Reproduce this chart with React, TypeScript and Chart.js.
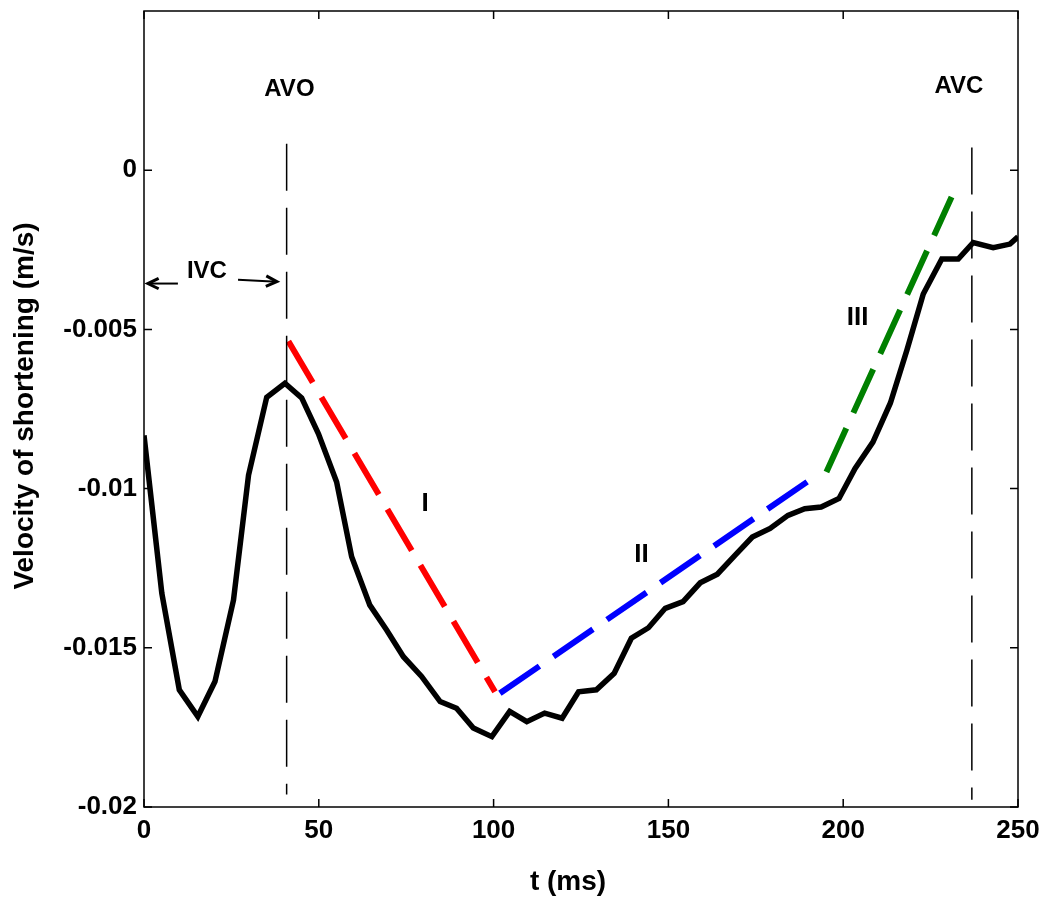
import React, { useEffect, useRef } from "react";
import { Chart, registerables } from "chart.js";

Chart.register(...registerables);

// ---- data ----
const tValues = [0, 5.1, 10.1, 15.4, 20.3, 25.6, 29.9, 35.1, 40.3, 45.1, 49.9, 55.1, 59.4, 64.6, 69.4, 74.2, 79.4, 84.7, 89.4, 94.2, 99.5, 104.6, 109.5, 114.6, 119.6, 124.3, 129.4, 134.5, 139.4, 144.3, 149.1, 154.2, 159.1, 164.0, 169.1, 174.0, 179.1, 184.2, 189.0, 193.7, 198.8, 203.4, 208.5, 213.5, 218.2, 222.9, 228.2, 232.9, 237.2, 242.9, 247.7, 250];
const velocity = [-0.00833, -0.01329, -0.01632, -0.01716, -0.01606, -0.0135, -0.00958, -0.00713, -0.00669, -0.00715, -0.00828, -0.00979, -0.01214, -0.01366, -0.01444, -0.01528, -0.0159, -0.01669, -0.0169, -0.01752, -0.01779, -0.017, -0.01732, -0.01705, -0.01721, -0.01638, -0.01632, -0.0158, -0.0147, -0.01437, -0.01376, -0.01355, -0.01296, -0.01269, -0.01209, -0.01152, -0.01125, -0.01084, -0.01063, -0.01058, -0.01031, -0.00937, -0.00854, -0.00731, -0.00566, -0.00389, -0.00279, -0.00279, -0.00227, -0.00243, -0.00232, -0.00209];

const fitI_t = [41.3, 100.4];
const fitI_v = [-0.00537, -0.01638];
const fitII_t = [101.8, 193.1];
const fitII_v = [-0.01643, -0.00953];
const fitIII_t = [195.2, 231.0];
const fitIII_v = [-0.00948, -0.00084];

const avoT = 40.8;
const avoV = [0.00083, -0.01961];
const avcT = 236.8;
const avcV = [0.00071, -0.01977];

const xTickValues = [0, 50, 100, 150, 200, 250];
const yTickValues = [0, -0.005, -0.01, -0.015, -0.02];

const labelTexts = ["AVO", "AVC", "IVC", "I", "II", "III"];
const labelT = [41.6, 233.1, 18.0, 80.4, 142.3, 204.1];
const labelV = [0.00253, 0.00264, -0.00319, -0.01048, -0.01207, -0.00463];

// arrows: [fromT, fromV, toT, toV]
const ivcArrowLeft = [9.7, -0.00356, 1.1, -0.00356];
const ivcArrowRight = [26.9, -0.00344, 38.0, -0.0035];

const FONT = "'Liberation Sans', Arial, Helvetica, sans-serif";

const pts = (ts: number[], vs: number[]) => ts.map((t, i) => ({ x: t, y: vs[i] }));

const decorPlugin = {
  id: "decor",
  afterDatasetsDraw(chart: any) {
    const { ctx, chartArea, scales } = chart;
    const xs = scales.x;
    const ys = scales.y;
    ctx.save();
    // frame
    ctx.strokeStyle = "#000";
    ctx.lineWidth = 1.5;
    ctx.strokeRect(chartArea.left, chartArea.top, chartArea.right - chartArea.left, chartArea.bottom - chartArea.top);
    // inward ticks
    const tl = 8;
    ctx.beginPath();
    xTickValues.forEach((v) => {
      const px = xs.getPixelForValue(v);
      ctx.moveTo(px, chartArea.bottom);
      ctx.lineTo(px, chartArea.bottom - tl);
      ctx.moveTo(px, chartArea.top);
      ctx.lineTo(px, chartArea.top + tl);
    });
    yTickValues.forEach((v) => {
      const py = ys.getPixelForValue(v);
      ctx.moveTo(chartArea.left, py);
      ctx.lineTo(chartArea.left + tl, py);
      ctx.moveTo(chartArea.right, py);
      ctx.lineTo(chartArea.right - tl, py);
    });
    ctx.stroke();

    // annotation labels
    ctx.fillStyle = "#000";
    ctx.textAlign = "center";
    ctx.textBaseline = "middle";
    labelTexts.forEach((txt, i) => {
      const size = txt.startsWith("I") && txt !== "IVC" ? 26 : 24;
      ctx.font = `bold ${size}px ${FONT}`;
      ctx.fillText(txt, xs.getPixelForValue(labelT[i]), ys.getPixelForValue(labelV[i]));
    });

    // arrows
    const drawArrow = (a: number[]) => {
      const x1 = xs.getPixelForValue(a[0]);
      const y1 = ys.getPixelForValue(a[1]);
      const x2 = xs.getPixelForValue(a[2]);
      const y2 = ys.getPixelForValue(a[3]);
      const ang = Math.atan2(y2 - y1, x2 - x1);
      const hl = 12;
      ctx.lineWidth = 2;
      ctx.beginPath();
      ctx.moveTo(x1, y1);
      ctx.lineTo(x2, y2);
      ctx.stroke();
      ctx.beginPath();
      ctx.moveTo(x2 - hl * Math.cos(ang - 0.45), y2 - hl * Math.sin(ang - 0.45));
      ctx.lineTo(x2, y2);
      ctx.lineTo(x2 - hl * Math.cos(ang + 0.45), y2 - hl * Math.sin(ang + 0.45));
      ctx.lineWidth = 3;
      ctx.stroke();
    };
    drawArrow(ivcArrowLeft);
    drawArrow(ivcArrowRight);

    // axis titles
    ctx.font = `bold 28px ${FONT}`;
    ctx.textAlign = "center";
    ctx.textBaseline = "middle";
    ctx.fillText("t (ms)", (chartArea.left + chartArea.right) / 2 - 13, 882);
    ctx.save();
    ctx.translate(25, 406);
    ctx.rotate(-Math.PI / 2);
    ctx.fillText("Velocity of shortening (m/s)", 0, 0);
    ctx.restore();
    ctx.restore();
  },
};

export default function App() {
  const ref = useRef<HTMLCanvasElement | null>(null);
  useEffect(() => {
    if (!ref.current) return;
    const line = (data: any, color: string, width: number, dash: number[] = []) => ({
      data,
      borderColor: color,
      backgroundColor: color,
      borderWidth: width,
      borderDash: dash,
      pointRadius: 0,
      tension: 0,
      fill: false,
      borderJoinStyle: "miter",
      borderCapStyle: "butt",
    });
    const chart = new Chart(ref.current, {
      type: "line",
      data: {
        datasets: [
          line(pts([avoT, avoT], avoV), "#000", 1.5, [47, 17]),
          line(pts([avcT, avcT], avcV), "#000", 1.5, [47, 17]),
          line(pts(tValues, velocity), "#000", 5.5),
          line(pts(fitI_t, fitI_v), "#ff0000", 6, [48, 17]),
          line(pts(fitII_t, fitII_v), "#0000ff", 6, [48, 17]),
          line(pts(fitIII_t, fitIII_v), "#008000", 6, [48, 17]),
        ] as any,
      },
      options: {
        responsive: false,
        animation: false,
        devicePixelRatio: 1,
        layout: { padding: { top: 11, right: 26, bottom: 0, left: 0 } },
        plugins: { legend: { display: false }, tooltip: { enabled: false } },
        scales: {
          x: {
            type: "linear",
            min: 0,
            max: 250,
            grid: { display: false, drawTicks: false },
            border: { display: false },
            ticks: {
              stepSize: 50,
              padding: 8,
              color: "#000",
              font: { family: FONT, size: 26, weight: "bold" },
              maxRotation: 0,
            },
            afterFit: (s: any) => {
              s.height = 91;
              s.paddingLeft = 0;
              s.paddingRight = 0;
            },
          },
          y: {
            type: "linear",
            min: -0.02,
            max: 0.005,
            grid: { display: false, drawTicks: false },
            border: { display: false },
            ticks: {
              stepSize: 0.005,
              padding: 7,
              color: "#000",
              font: { family: FONT, size: 26, weight: "bold" },
              callback: (v: any) => (v > 0.0001 ? "" : String(Number(Number(v).toFixed(3)))),
            },
            afterFit: (s: any) => {
              s.width = 144;
              s.paddingTop = 0;
              s.paddingBottom = 0;
            },
          },
        },
      } as any,
      plugins: [decorPlugin],
    });
    return () => chart.destroy();
  }, []);
  return (
    <div style={{ position: "absolute", left: 0, top: 0, width: 1044, height: 898, background: "#fff" }}>
      <canvas ref={ref} width={1044} height={898} style={{ display: "block" }} />
    </div>
  );
}
